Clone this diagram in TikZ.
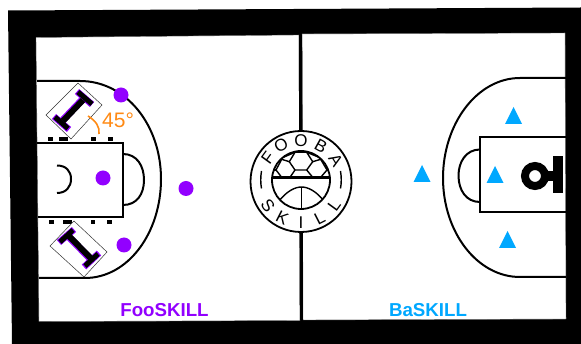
\documentclass[tikz,border=0pt]{standalone}
\usepackage{fontspec}
\usetikzlibrary{calc}
\setmainfont{Liberation Sans}
\definecolor{foo}{HTML}{9200FF}
\definecolor{ba}{HTML}{00A8FF}
\definecolor{ang}{HTML}{FF8A14}
\tikzset{
  court/.style={draw=black,line width=2pt},
  hash/.style={fill=black,draw=none},
  dot/.style={fill=foo,draw=none},
  tri/.style={fill=ba,draw=none},
  panel/.style={fill=white,draw=black!55,line width=.4pt},
  screenbox/.style={draw=black!80,line width=.5pt,fill=white},
  beamback/.style={draw=foo,line cap=butt},
  beam/.style={draw=black,line cap=butt},
  logoline/.style={draw=black,line width=1.4pt},
  logoletter/.style={font=\fontsize{17}{17}\selectfont,inner sep=0pt,text=black},
  teamlabel/.style={font=\fontsize{18.7}{19}\selectfont\bfseries,inner sep=0pt,anchor=base}
}
\begin{document}
\begin{tikzpicture}[x=1pt,y=-1pt]
\useasboundingbox (0,0) rectangle (581,344);
% frame
\fill[black] (8,10.5) -- (581,7.5) -- (581,344) -- (12,344) -- cycle;
\draw[panel] (36,37.5) -- (299,35) -- (300,320.5) -- (39,321.5) -- cycle;
\draw[panel] (302,34) -- (565,33) -- (566,319) -- (303,320) -- cycle;
% midline
\fill[black] (298.8,35) -- (302.2,34.5) -- (303,320.5) -- (299.8,320.5) -- cycle;
% left half
\draw[court] (37,81) -- (80,81) .. controls (126,81) and (161,125) .. (161,179)
  .. controls (161,233) and (128,278) .. (85,278) -- (39,278);
\draw[court] (37,143.5) -- (123,143.5) -- (123,217) -- (38,217);
\draw[court] (123,154) .. controls (137,154) and (144,166) .. (144,180) .. controls (144,194) and (137,205) .. (123,205);
\draw[court] (57,165.5) .. controls (66,165.5) and (71,171) .. (71,179) .. controls (71,187) and (66,193) .. (57,193);
\foreach \a/\b in {47.5/52.5,59/68,91/95.5,107.5/112.5} \fill[hash] (\a,137.5) rectangle (\b,141.5);
\foreach \a/\b in {49/54,63/72,90.5/95,107/112} \fill[hash] (\a,220) rectangle (\b,224);
\draw[screenbox] (78,83) -- (102,105) -- (71,139) -- (46,115) -- cycle;
\draw[screenbox] (74,221) -- (107,252) -- (84,277) -- (50,246) -- cycle;
% top I-beam
\draw[beamback,line width=7pt] (82.5,99.5) -- (62.5,120.5);
\draw[beamback,line width=6.5pt] (77,91.5) -- (92,104.5);
\draw[beamback,line width=6.5pt] (54,116.5) -- (69,129.5);
\draw[beam,line width=6pt] (83,100) -- (63,121);
\draw[beam,line width=5pt] (78,92) -- (92,104);
\draw[beam,line width=5pt] (55,117) -- (68,128.5);
% bottom I-beam
\draw[beamback,line width=7pt] (67.5,235.5) -- (90,258.5);
\draw[beamback,line width=6.5pt] (59,242.5) -- (74,229.5);
\draw[beamback,line width=6.5pt] (84,267) -- (99,253);
\draw[beam,line width=6pt] (68,235) -- (90.5,258);
\draw[beam,line width=5pt] (60,242) -- (73,230);
\draw[beam,line width=5pt] (85,266) -- (98,254);
% angle
\draw[draw=ang,line width=1.6pt] (88,116) .. controls (96,121) and (100,127) .. (99,134);
\node[anchor=base west,inner sep=0pt,text=ang,font=\fontsize{21}{21}\selectfont] (angle) at (102,128) {45°};
% players
\foreach \p in {(121,95),(103,178),(186,188.5),(124,245)} \fill[dot] \p circle[radius=7.5pt];
% right half
\draw[court] (566,78) -- (520,78) .. controls (477,78) and (443,124) .. (443,178)
  .. controls (443,232) and (477,277) .. (520,277) -- (566,277);
\draw[court] (566,137) -- (480,137) -- (480,212.5) -- (566,212.5);
\draw[court] (480,149.5) .. controls (466,149.5) and (458.5,162) .. (458.5,175.5) .. controls (458.5,190) and (466,202) .. (480,202);
\draw[line width=8pt] (535,176) circle[radius=10pt];
\fill[black] (545,171.5) rectangle (556,181);
\fill[black] (553,156) rectangle (563,193);
\foreach \x/\y in {513.5/107,422/165,495/166,507.5/231}
  \fill[tri] (\x,\y) -- (\x+8.5,\y+17) -- (\x-8.5,\y+17) -- cycle;
% logo
\coordinate (logoc) at (301,181.5);
\fill[white] (logoc) circle[radius=51pt];
\draw[logoline,line width=1.8pt] (logoc) circle[radius=50.5pt];
\coordinate (ballc) at (301,180);
\draw[logoline,line width=1.8pt] (ballc) circle[radius=29pt];
\draw[logoline] (261.5,171) .. controls (260.5,177) and (260.5,183) .. (261.5,188.5);
\draw[logoline] (340.5,171) .. controls (341.5,177) and (341.5,183) .. (340.5,188.5);
\begin{scope}
\clip (ballc) circle[radius=29pt];
\draw[logoline,line join=round] (295,152.3) -- (306.7,152.3) -- (312.7,161.7) -- (306.7,170) -- (295,170) -- (289.3,161.7) -- cycle;
\draw[logoline] (295,152.3) -- (281.7,158) (306.7,152.3) -- (320.7,158);
\draw[logoline] (295,170) -- (290,177.3) (306.7,170) -- (312.7,177.3);
\draw[logoline] (289.3,161.7) -- (281.7,159.3) -- (276,170) -- (281.7,177.3);
\draw[logoline] (312.7,161.7) -- (320.7,159.3) -- (327,170) -- (320.7,177.3);
\draw[logoline] (276,170) -- (270,170) (327,170) -- (332,170);
\draw[black,line width=3pt] (270,178) -- (332,178);
\draw[logoline] (279,201) .. controls (287,191) and (295,187) .. (301.5,187) .. controls (308,187) and (316,191) .. (324,201);
\draw[logoline] (301.5,187) -- (301.5,210);
\end{scope}
\foreach \n/\t/\a in {f/F/-54,o1/O/-29,o2/O/0,b/B/29,a/A/58}
  \node[logoletter,rotate=-\a] (top\n) at ($(logoc)+(90-\a:41pt)$) {\t};
\foreach \n/\t/\a in {s/S/54,k/K/27,i/I/0,l1/L/-27,l2/L/-54}
  \node[logoletter,rotate=-\a] (bot\n) at ($(logoc)+(270-\a:41pt)$) {\t};
% labels
\node[teamlabel,text=foo] (foolabel) at (164.5,317) {FooSKILL};
\node[teamlabel,text=ba] (balabel) at (428,316.7) {BaSKILL};
\end{tikzpicture}
\end{document}
